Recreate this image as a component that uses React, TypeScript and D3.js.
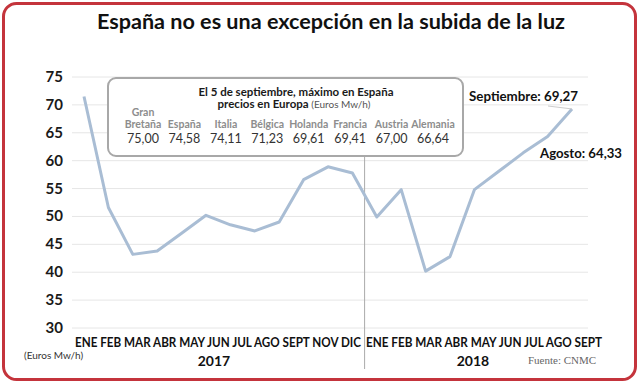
import React from "react";
import * as d3 from "d3";

const monthValues: number[] = [
  71.5, 51.6, 43.2, 43.8, 47.0, 50.2, 48.5, 47.4, 49.0, 56.6, 58.9, 57.8,
  49.9, 54.8, 40.2, 42.8, 54.8, 58.1, 61.4, 64.33, 69.27,
];
const yTicks: number[] = [30, 35, 40, 45, 50, 55, 60, 65, 70, 75];
const labels2017: string[] = ["ENE", "FEB", "MAR", "ABR", "MAY", "JUN", "JUL", "AGO", "SEPT", "NOV", "DIC"];
const labels2018: string[] = ["ENE", "FEB", "MAR", "ABR", "MAY", "JUN", "JUL", "AGO", "SEPT"];
const countries: string[] = ["Bretaña", "España", "Italia", "Bélgica", "Holanda", "Francia", "Austria", "Alemania"];
const countryPrices: string[] = ["75,00", "74,58", "74,11", "71,23", "69,61", "69,41", "67,00", "66,64"];

const W = 640;
const H = 384;
const FONT = "Lato, 'Open Sans', 'DejaVu Sans', sans-serif";

export default function App() {
  const x = d3.scalePoint<number>().domain(d3.range(monthValues.length)).range([84, 572]);
  const y = d3.scaleLinear().domain([30, 75]).range([328, 77]);
  const line = d3
    .line<number>()
    .x((_, i) => x(i) as number)
    .y((d) => y(d))
    .curve(d3.curveLinear);
  const cx = d3.scalePoint<string>().domain(countries).range([143, 433]);
  const sepX = ((x(11) as number) + (x(12) as number)) / 2;
  const lastI = monthValues.length - 1;

  return (
    <svg width={W} height={H} style={{ position: "absolute", left: 0, top: 0, background: "#fff" }}>
      <rect x={3.5} y={3.5} width={632} height={376} rx={13} ry={13} fill="#fff" stroke="#c4343c" strokeWidth={3} />
      <text x={331} y={29} textAnchor="middle" fontFamily={FONT} fontWeight="bold" fontSize={20} fill="#111" textLength={468} lengthAdjust="spacingAndGlyphs">
        España no es una excepción en la subida de la luz
      </text>

      {yTicks.map((t) => (
        <g key={t}>
          <line x1={72} x2={588} y1={y(t)} y2={y(t)} stroke="#e6e6e6" strokeWidth={1} />
          <text x={63} y={y(t) + 5} textAnchor="end" fontFamily={FONT} fontWeight="bold" fontSize={15} fill="#1a1a1a">
            {t}
          </text>
        </g>
      ))}

      <line x1={sepX} x2={sepX} y1={157} y2={369} stroke="#aaa" strokeWidth={1} />

      <path d={line(monthValues) as string} fill="none" stroke="#a9bdd4" strokeWidth={3} strokeLinejoin="round" />

      <rect x={108} y={78} width={355} height={78} rx={8} ry={8} fill="#fff" stroke="#a8a8a8" strokeWidth={2} />
      <text x={296} y={96} textAnchor="middle" fontFamily={FONT} fontWeight="bold" fontSize={11.5} fill="#1a1a1a" textLength={195} lengthAdjust="spacingAndGlyphs">
        El 5 de septiembre, máximo en España
      </text>
      <text x={294} y={108} textAnchor="middle" fontFamily={FONT} fontSize={11.5} fill="#1a1a1a">
        <tspan fontWeight="bold">precios en Europa</tspan>
        <tspan fontSize={10} fill="#555"> (Euros Mw/h)</tspan>
      </text>
      <text x={cx("Bretaña")} y={116} textAnchor="middle" fontFamily={FONT} fontWeight="bold" fontSize={10.5} fill="#8d8d8d">
        Gran
      </text>
      {countries.map((c, i) => (
        <g key={c}>
          <text x={cx(c)} y={128} textAnchor="middle" fontFamily={FONT} fontWeight="bold" fontSize={10.5} fill="#8d8d8d">
            {c}
          </text>
          <text x={cx(c)} y={143} textAnchor="middle" fontFamily={FONT} fontSize={12.5} fill="#333">
            {countryPrices[i]}
          </text>
        </g>
      ))}

      <line x1={548} y1={106} x2={x(lastI) as number} y2={y(monthValues[lastI])} stroke="#ccc" strokeWidth={1} />
      <text x={469} y={101} fontFamily={FONT} fontWeight="bold" fontSize={13} fill="#111" textLength={109} lengthAdjust="spacingAndGlyphs">
        Septiembre: 69,27
      </text>
      <text x={540} y={158} fontFamily={FONT} fontWeight="bold" fontSize={13} fill="#111" textLength={82} lengthAdjust="spacingAndGlyphs">
        Agosto: 64,33
      </text>

      <text x={75} y={347} fontFamily={FONT} fontWeight="bold" fontSize={12.5} fill="#111" textLength={286} lengthAdjust="spacingAndGlyphs">
        {labels2017.join(" ")}
      </text>
      <text x={366} y={347} fontFamily={FONT} fontWeight="bold" fontSize={12.5} fill="#111" textLength={236} lengthAdjust="spacingAndGlyphs">
        {labels2018.join(" ")}
      </text>
      <text x={214} y={366} textAnchor="middle" fontFamily={FONT} fontWeight="bold" fontSize={14} fill="#111">
        2017
      </text>
      <text x={473} y={366} textAnchor="middle" fontFamily={FONT} fontWeight="bold" fontSize={14} fill="#111">
        2018
      </text>
      <text x={24} y={359} fontFamily={FONT} fontSize={10} fill="#333">
        (Euros Mw/h)
      </text>
      <text x={528} y={364} fontFamily="'Liberation Serif', 'DejaVu Serif', serif" fontSize={11} fill="#666">
        Fuente: CNMC
      </text>
    </svg>
  );
}
